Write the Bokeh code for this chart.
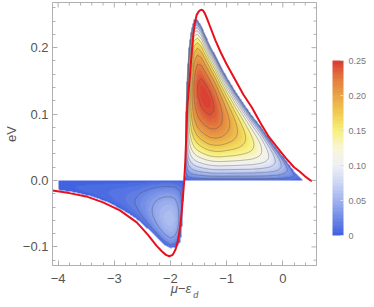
import numpy as np
from bokeh.plotting import figure
from bokeh.models import (Range1d, ColorBar, LinearColorMapper, LinearAxis,
                          FixedTicker, CustomJSTickFormatter)
from bokeh.embed import file_html
from bokeh.resources import INLINE

# ---------------- values ----------------
# upper lobe (eV > 0): zero-contour edge height and column maximum
pos_x = [-1.742, -1.735, -1.72, -1.70, -1.67, -1.63, -1.58, -1.52, -1.45, -1.38,
         -1.30, -1.20, -1.10, -1.00, -0.85, -0.70, -0.55, -0.40, -0.25, -0.10,
         0.05, 0.20, 0.30, 0.36]
pos_edge = [0.0, 0.05, 0.12, 0.16, 0.20, 0.226, 0.242, 0.242, 0.233, 0.219,
            0.204, 0.188, 0.171, 0.156, 0.135, 0.116, 0.098, 0.082, 0.064, 0.047,
            0.031, 0.014, 0.005, 0.0]
pos_peak = [0.0, 0.02, 0.06, 0.10, 0.15, 0.19, 0.222, 0.240, 0.247, 0.248,
            0.246, 0.238, 0.224, 0.208, 0.186, 0.165, 0.145, 0.124, 0.100, 0.074,
            0.045, 0.02, 0.007, 0.0]
# lower lobe (eV < 0)
neg_x = [-4.0, -3.7, -3.4, -3.1, -2.8, -2.6, -2.45, -2.3, -2.2, -2.1, -2.0,
         -1.93, -1.87, -1.83, -1.80, -1.78, -1.765]
neg_edge = [-0.014, -0.018, -0.024, -0.033, -0.047, -0.058, -0.069, -0.081,
            -0.089, -0.097, -0.102, -0.101, -0.098, -0.093, -0.080, -0.040, 0.0]
neg_peak = [0.004, 0.005, 0.007, 0.010, 0.015, 0.021, 0.030, 0.042, 0.050,
            0.056, 0.058, 0.055, 0.045, 0.035, 0.022, 0.010, 0.0]
ridge_t = 0.57          # relative height of the ridge inside each lobe
flat = 0.75             # flattening of the ridge (steeper edges)

# red boundary curve
red_x = [-4.1, -3.8, -3.5, -3.2, -2.9, -2.6, -2.4, -2.25, -2.15, -2.08, -2.02,
         -1.96, -1.91, -1.87, -1.83, -1.80, -1.775, -1.755, -1.735, -1.715,
         -1.70, -1.665, -1.63, -1.595, -1.565, -1.535, -1.50, -1.47, -1.445,
         -1.42, -1.39, -1.35, -1.30, -1.20, -1.10, -1.00, -0.85, -0.70, -0.55,
         -0.40, -0.25, -0.10, 0.05, 0.20, 0.30, 0.40, 0.48, 0.52]
red_y = [-0.0152, -0.019, -0.024, -0.033, -0.045, -0.063, -0.082, -0.098,
         -0.107, -0.112, -0.114, -0.112, -0.104, -0.092, -0.071, -0.048, -0.022,
         0.0, 0.03, 0.075, 0.112, 0.146, 0.183, 0.218, 0.237, 0.249, 0.254,
         0.2565, 0.257, 0.256, 0.252, 0.244, 0.233, 0.211, 0.192, 0.175, 0.152,
         0.129, 0.110, 0.087, 0.066, 0.050, 0.034, 0.020, 0.0135, 0.006, 0.001,
         -0.001]

x_ticks = [-4, -3, -2, -1, 0]
y_ticks = [-0.1, 0.0, 0.1, 0.2]
cbar_ticks = [0.0, 0.05, 0.10, 0.15, 0.20, 0.25]
line_levels = [0.02, 0.04, 0.06, 0.08, 0.10, 0.12, 0.14, 0.16, 0.18, 0.20, 0.22, 0.24]
x_title = "\u03bc\u2212\u03b5"
x_title_sub = "d"
y_title = "eV"

# colour map stops (TemperatureMap-like)
cm_vals = [0.0, 0.025, 0.05, 0.075, 0.10, 0.125, 0.15, 0.175, 0.20, 0.225, 0.25]
cm_cols = ["#3d5fe0", "#6f8ae6", "#9fb2ee", "#ccd6f4", "#eef0f6", "#f8f6d8",
           "#f8f07a", "#f1cc52", "#e9a447", "#e27a3e", "#d93a33"]

X0, X1 = -4.1, 0.6
Y0, Y1 = -0.128, 0.268
FW, FH = 264, 263          # frame size in px

# ---------------- build field from the read values ----------------
def hex2rgb(h):
    return [int(h[i:i + 2], 16) for i in (1, 3, 5)]

rgb = np.array([hex2rgb(c) for c in cm_cols], dtype=float)
nb = 50
centers = (np.arange(nb) + 0.5) / nb * 0.25
pal_rgb = np.array([[np.interp(v, cm_vals, rgb[:, k]) for k in range(3)] for v in centers])
palette = ["#%02x%02x%02x" % tuple(int(round(c)) for c in row) for row in pal_rgb]

c_skew = (2 * ridge_t - 1) / (2 * ridge_t - 3 * ridge_t ** 2)

def shape(t):
    return t * (1 - t) * (1 + c_skew * t)

gmax = shape(np.linspace(0, 1, 2001)).max()

def profile(t):
    g = shape(t) / gmax
    return np.sign(g) * np.abs(g) ** flat

NX, NY = FW * 3, FH * 3
xs = X0 + (np.arange(NX) + 0.5) * (X1 - X0) / NX
ys = Y0 + (np.arange(NY) + 0.5) * (Y1 - Y0) / NY
XX, YY = np.meshgrid(xs, ys)
Z = np.full(XX.shape, -1.0)

vb = np.interp(xs, pos_x, pos_edge)[None, :]
pk = np.interp(xs, pos_x, pos_peak)[None, :]
inpos = ((xs > pos_x[0]) & (xs < pos_x[-1]))[None, :]
T = YY / np.maximum(vb, 1e-9)
m = inpos & (YY >= 0) & (T <= 1.5)
Z = np.where(m, pk * profile(T), Z)

vn = np.interp(xs, neg_x, neg_edge)[None, :]
pn = np.interp(xs, neg_x, neg_peak)[None, :]
inneg = ((xs >= neg_x[0]) & (xs < neg_x[-1]))[None, :]
T2 = YY / np.minimum(vn, -1e-9)
m2 = inneg & (YY <= 0) & (T2 <= 1.5)
Z = np.where(m2, pn * profile(T2), Z)

# banded RGBA image
idx = np.clip((Z / 0.25 * nb).astype(int), 0, nb - 1)
img = np.zeros(Z.shape + (4,), dtype=np.uint8)
img[..., :3] = pal_rgb[idx].round().astype(np.uint8)
img[..., 3] = np.where(Z > 0, 255, 0).astype(np.uint8)
img32 = img.view(dtype=np.uint32).reshape(Z.shape)

# ---------------- figure ----------------
GRAY_AX = "#b0b0b0"
GRAY_TX = "#555555"
FONT = "Liberation Sans"

p = figure(width=374, height=307, x_range=Range1d(X0, X1),
           y_range=Range1d(Y0, Y1), output_backend="svg",
           toolbar_location=None, min_border_left=52, min_border_right=58,
           min_border_top=2, min_border_bottom=42)
p.outline_line_color = GRAY_AX
p.grid.visible = False
p.background_fill_color = "white"
p.border_fill_color = "white"

p.image_rgba(image=[img32], x=X0, y=Y0, dw=X1 - X0, dh=Y1 - Y0)
p.contour(x=xs, y=ys, z=Z, levels=line_levels, fill_color=None,
          line_color="#4d4d4d", line_alpha=0.5, line_width=0.8)
p.line(red_x, red_y, line_color="#e8101a", line_width=2)

x_minor = [round(v, 2) for v in np.arange(-4.0, 0.61, 0.2)]
y_minor = [round(v, 3) for v in np.arange(-0.12, 0.27, 0.02)]
xfmt = CustomJSTickFormatter(code="return (tick < 0 ? '\u2212' : '') + Math.abs(tick).toFixed(0);")
yfmt = CustomJSTickFormatter(code="return (tick < -1e-9 ? '\u2212' : '') + Math.abs(tick).toFixed(1);")

for ax in (p.xaxis[0], p.yaxis[0]):
    ax.axis_line_color = GRAY_AX
    ax.major_tick_line_color = GRAY_AX
    ax.minor_tick_line_color = GRAY_AX
    ax.major_tick_in = 5
    ax.major_tick_out = 0
    ax.minor_tick_in = 3
    ax.minor_tick_out = 0
    ax.major_label_text_font = FONT
    ax.major_label_text_font_size = "13px"
    ax.major_label_text_color = GRAY_TX
    ax.axis_label_text_font = FONT
    ax.axis_label_text_font_size = "13px"
    ax.axis_label_text_color = GRAY_TX
    ax.axis_label_text_font_style = "normal"
p.xaxis.ticker = FixedTicker(ticks=x_ticks, minor_ticks=x_minor)
p.yaxis.ticker = FixedTicker(ticks=y_ticks, minor_ticks=y_minor)
p.xaxis.formatter = xfmt
p.yaxis.formatter = yfmt
p.yaxis.major_label_standoff = 4
p.xaxis.major_label_standoff = 8
p.yaxis.axis_label = y_title
p.yaxis.axis_label_standoff = 1
p.xaxis.axis_label = x_title + "\u00a0\u00a0"
p.xaxis.axis_label_text_font_style = "italic"
p.xaxis.axis_label_standoff = -5

# subscript of the x title, carried by a bare second bottom axis
ax_sub = LinearAxis(ticker=FixedTicker(ticks=[]), axis_line_color=None,
                    major_tick_line_color=None, minor_tick_line_color=None,
                    axis_label="\u2003\u2003\u2002" + x_title_sub,
                    axis_label_text_font=FONT, axis_label_text_font_size="9px",
                    axis_label_text_font_style="italic",
                    axis_label_text_color=GRAY_TX, axis_label_standoff=-9,
                    major_label_standoff=0)
p.add_layout(ax_sub, "below")

# inward ticks on the top and right frame edges (no labels)
dy_maj, dy_min = 5 * (Y1 - Y0) / FH, 3 * (Y1 - Y0) / FH
dx_maj, dx_min = 5 * (X1 - X0) / FW, 3 * (X1 - X0) / FW
xt_min = [v for v in x_minor if v not in x_ticks]
yt_min = [v for v in y_minor if all(abs(v - t) > 1e-6 for t in y_ticks)]
p.segment(x0=x_ticks, x1=x_ticks, y0=[Y1] * len(x_ticks), y1=[Y1 - dy_maj] * len(x_ticks),
          line_color=GRAY_AX, line_width=1)
p.segment(x0=xt_min, x1=xt_min, y0=[Y1] * len(xt_min), y1=[Y1 - dy_min] * len(xt_min),
          line_color=GRAY_AX, line_width=1)
p.segment(x0=[X1] * len(y_ticks), x1=[X1 - dx_maj] * len(y_ticks), y0=y_ticks, y1=y_ticks,
          line_color=GRAY_AX, line_width=1)
p.segment(x0=[X1] * len(yt_min), x1=[X1 - dx_min] * len(yt_min), y0=yt_min, y1=yt_min,
          line_color=GRAY_AX, line_width=1)

mapper = LinearColorMapper(palette=palette, low=0, high=0.25)
cfmt = CustomJSTickFormatter(code="return tick == 0 ? '0' : tick.toFixed(2);")
cb = ColorBar(color_mapper=mapper, width=11, height=175, location=(13, 27),
              ticker=FixedTicker(ticks=cbar_ticks), formatter=cfmt,
              major_label_text_font=FONT, major_label_text_font_size="9px",
              major_label_text_color="#777777", label_standoff=5,
              major_tick_line_color="#dddddd", major_tick_in=3, major_tick_out=0,
              bar_line_color=None, border_line_color=None,
              background_fill_color=None, padding=3)
p.add_layout(cb, "right")

open("out.html", "w").write(file_html(p, INLINE))
